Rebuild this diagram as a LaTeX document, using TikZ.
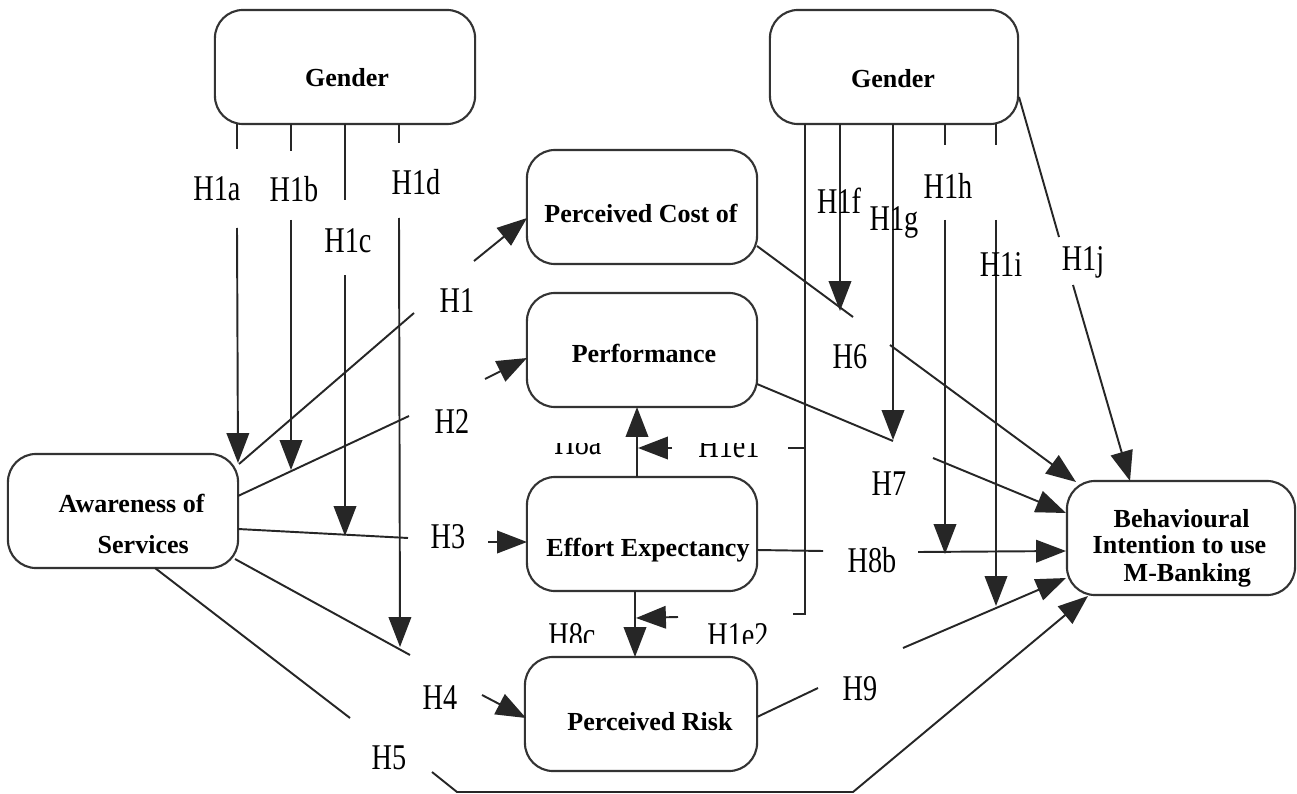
\documentclass[tikz,border=0pt]{standalone}
\usepackage{fontspec}
\setmainfont{Liberation Serif}
\newfontfamily\hlabfont[FakeStretch=0.78]{Liberation Serif}
\usetikzlibrary{arrows.meta}

\begin{document}
\begin{tikzpicture}[x=0.01cm,y=-0.01cm,
  box/.style={draw=black!80, line width=0.6pt, rounded corners=8pt,
    minimum width=#1, minimum height=1.14cm, inner sep=0pt},
  ttl/.style={font=\bfseries\fontsize{7.4}{8}\selectfont, inner sep=0pt, anchor=base},
  hl/.style={font=\hlabfont\fontsize{10.3}{11}\selectfont, inner sep=0pt, anchor=base},
  ln/.style={line width=0.55pt, draw=black!85},
  arr/.style={ln, -{Triangle[length=8.5pt,width=6.4pt]}}]

\fill[white] (0,0) rectangle (1297,794);
\useasboundingbox (0,0) rectangle (1297,794);

% ---- constructs ----
\node[box=2.6cm]  (gl) at (345,67)  {};
\node[box=2.48cm] (gr) at (894,67)  {};
\node[box=2.3cm]  (pc) at (642,207) {};
\node[box=2.3cm]  (pf) at (642,350) {};
\node[box=2.3cm]  (ee) at (642,534) {};
\node[box=2.32cm] (pr) at (641,714) {};
\node[box=2.3cm]  (aw) at (123,511) {};
\node[box=2.28cm] (bi) at (1181,538) {};

\node[ttl] (glt) at (347,87)  {Gender};
\node[ttl] (grt) at (893,88)  {Gender};
\node[ttl] (pct) at (641,222) {Perceived Cost of};
\node[ttl] (pft) at (644,362) {Performance};
\node[ttl] (eet) at (648,556) {Effort Expectancy};
\node[ttl] (prt) at (650,730) {Perceived Risk};
\node[ttl,anchor=base west] (awt1) at (58,512)  {Awareness of};
\node[ttl,anchor=base west] (awt2) at (97,553)  {Services};
\node[ttl,anchor=base west] (bit1) at (1113,527) {Behavioural};
\node[ttl,anchor=base west] (bit2) at (1092,553) {Intention to use};
\node[ttl,anchor=base west] (bit3) at (1123,581) {M-Banking};

% ---- end points of the connectors ----
% moderators from the left Gender box
\coordinate (a0) at (237,124); \coordinate (a1) at (237,149);
\coordinate (a2) at (237,228); \coordinate (a3) at (238,463);
\coordinate (b0) at (291,124); \coordinate (b1) at (291,151);
\coordinate (b2) at (291,220); \coordinate (b3) at (291,470);
\coordinate (c0) at (345,124); \coordinate (c1) at (345,200);
\coordinate (c2) at (345,275); \coordinate (c3) at (345,536);
\coordinate (d0) at (399,124); \coordinate (d1) at (399,143);
\coordinate (d2) at (399,218); \coordinate (d3) at (400,647);
% moderators from the right Gender box
\coordinate (e0) at (805,124); \coordinate (e1) at (805,614);
\coordinate (e2) at (793,614); \coordinate (e3) at (788,448);
\coordinate (e4) at (805,448);
\coordinate (f0) at (840,124); \coordinate (f1) at (840,311);
\coordinate (g0) at (893,124); \coordinate (g1) at (893,440);
\coordinate (h0) at (945,124); \coordinate (h1) at (945,145);
\coordinate (h2) at (945,220); \coordinate (h3) at (945,554);
\coordinate (i0) at (996,124); \coordinate (i1) at (996,145);
\coordinate (i2) at (996,220); \coordinate (i3) at (996,606);
\coordinate (j0) at (1019,97); \coordinate (j1) at (1059,237);
\coordinate (j2) at (1073,285); \coordinate (j3) at (1130,481);
% paths out of Awareness of Services
\coordinate (p1a) at (239,464); \coordinate (p1b) at (414,313);
\coordinate (p1c) at (474,261); \coordinate (p1d) at (527,218);
\coordinate (p2a) at (238,496); \coordinate (p2b) at (409,416);
\coordinate (p2c) at (485,379); \coordinate (p2d) at (527,358);
\coordinate (p3a) at (238,529); \coordinate (p3b) at (408,538);
\coordinate (p3c) at (488,542); \coordinate (p3d) at (527,542);
\coordinate (p4a) at (235,559); \coordinate (p4b) at (410,655);
\coordinate (p4c) at (482,695); \coordinate (p4d) at (526,718);
\coordinate (p5a) at (155,568); \coordinate (p5b) at (350,718);
\coordinate (p5c) at (432,772); \coordinate (p5d) at (457,792);
\coordinate (p5e) at (853,792); \coordinate (p5f) at (1088,596);
% paths into Behavioural Intention
\coordinate (p6a) at (757,246); \coordinate (p6b) at (853,317);
\coordinate (p6c) at (890,345); \coordinate (p6d) at (1076,482);
\coordinate (p7a) at (757,384); \coordinate (p7b) at (893,441);
\coordinate (p7c) at (933,458); \coordinate (p7d) at (1066,513);
\coordinate (p8a) at (757,550); \coordinate (p8b) at (823,551);
\coordinate (p8c) at (918,552); \coordinate (p8d) at (1066,551);
\coordinate (p9a) at (757,717); \coordinate (p9b) at (818,688);
\coordinate (p9c) at (903,648); \coordinate (p9d) at (1066,578);
% Effort Expectancy links
\coordinate (q1a) at (637,477); \coordinate (q1b) at (637,407);
\coordinate (q2a) at (635,591); \coordinate (q2b) at (635,657);
\coordinate (q3a) at (672,448); \coordinate (q3b) at (638,448);
\coordinate (q4a) at (678,617); \coordinate (q4b) at (636,618);

% ---- connectors ----
\draw[ln] (a0) -- (a1); \draw[arr] (a2) -- (a3);
\draw[ln] (b0) -- (b1); \draw[arr] (b2) -- (b3);
\draw[ln] (c0) -- (c1); \draw[arr] (c2) -- (c3);
\draw[ln] (d0) -- (d1); \draw[arr] (d2) -- (d3);

\draw[ln] (e0) -- (e1) -- (e2);
\draw[ln] (e3) -- (e4);
\draw[arr] (f0) -- (f1);
\draw[arr] (g0) -- (g1);
\draw[ln] (h0) -- (h1); \draw[arr] (h2) -- (h3);
\draw[ln] (i0) -- (i1); \draw[arr] (i2) -- (i3);
\draw[ln] (j0) -- (j1); \draw[arr] (j2) -- (j3);

\draw[ln] (p1a) -- (p1b); \draw[arr] (p1c) -- (p1d);
\draw[ln] (p2a) -- (p2b); \draw[arr] (p2c) -- (p2d);
\draw[ln] (p3a) -- (p3b); \draw[arr] (p3c) -- (p3d);
\draw[ln] (p4a) -- (p4b); \draw[arr] (p4c) -- (p4d);
\draw[ln] (p5a) -- (p5b); \draw[arr] (p5c) -- (p5d) -- (p5e) -- (p5f);

\draw[ln] (p6a) -- (p6b); \draw[arr] (p6c) -- (p6d);
\draw[ln] (p7a) -- (p7b); \draw[arr] (p7c) -- (p7d);
\draw[ln] (p8a) -- (p8b); \draw[arr] (p8c) -- (p8d);
\draw[ln] (p9a) -- (p9b); \draw[arr] (p9c) -- (p9d);

\draw[arr] (q1a) -- (q1b);
\draw[arr] (q2a) -- (q2b);
\draw[arr] (q3a) -- (q3b);
\draw[arr] (q4a) -- (q4b);

% ---- hypothesis labels ----
\node[hl] (l1a) at (217,201) {H1a};
\node[hl] (l1b) at (294,202) {H1b};
\node[hl] (l1c) at (348,252) {H1c};
\node[hl] (l1d) at (416,195) {H1d};
\node[hl] (l1f) at (839,213) {H1f};
\node[hl] (l1g) at (894,230) {H1g};
\node[hl] (l1h) at (948,199) {H1h};
\node[hl] (l1i) at (1001,277) {H1i};
\node[hl] (l1j) at (1083,270) {H1j};
\node[hl] (l1)  at (457,312) {H1};
\node[hl] (l2)  at (452,433) {H2};
\node[hl] (l3)  at (448,548) {H3};
\node[hl] (l4)  at (440,709) {H4};
\node[hl] (l5)  at (389,769) {H5};
\node[hl] (l6)  at (850,368) {H6};
\node[hl] (l7)  at (889,495) {H7};
\node[hl] (l8b) at (872,572) {H8b};
\node[hl] (l9)  at (860,700) {H9};

% labels around Effort Expectancy, partly hidden
\begin{scope}
  \clip (540,443) rectangle (620,470);
  \node[hl] (l8a) at (578,454) {H8a};
\end{scope}
\begin{scope}
  \clip (690,443) rectangle (775,470);
  \node[hl] (l1e1) at (729,457) {H1e1};
\end{scope}
\begin{scope}
  \clip (540,600) rectangle (620,642);
  \node[hl] (l8c) at (572,647) {H8c};
\end{scope}
\begin{scope}
  \clip (695,600) rectangle (785,643);
  \node[hl] (l1e2) at (738,647) {H1e2};
\end{scope}

\end{tikzpicture}
\end{document}
